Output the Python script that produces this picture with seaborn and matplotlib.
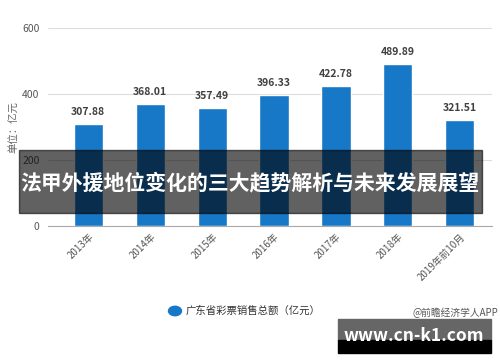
import pandas as pd
import seaborn as sns
import matplotlib.pyplot as plt
from matplotlib.patches import Rectangle

# Data
years = ['2013年', '2014年', '2015年', '2016年', '2017年', '2018年', '2019年前10月']
sales = [307.88, 368.01, 357.49, 396.33, 422.78, 489.89, 321.51]
yticks = [0, 200, 400, 600]

df = pd.DataFrame({'year': years, 'sales': sales})

sns.set_style('white')
plt.rcParams['font.family'] = ['Noto Sans CJK SC', 'DejaVu Sans']

fig = plt.figure(figsize=(5, 3.62), dpi=100)
ax = fig.add_axes([0.096, 0.376, 0.888, 0.547])

sns.barplot(data=df, x='year', y='sales', color='#1878C8', width=0.47,
            saturation=1, ax=ax, zorder=3)

# value labels
for i, v in enumerate(sales):
    ax.annotate(f'{v:.2f}', (i, v), xytext=(0, 5), textcoords='offset points',
                ha='center', va='bottom', fontsize=7.5, fontweight='bold', color='#404040')

ax.set_ylim(0, 600)
ax.set_xlim(-0.65, 6.52)
ax.set_yticks(yticks)
ax.set_yticklabels([str(t) for t in yticks], fontsize=7.5, color='#555555')
ax.tick_params(axis='y', length=0, pad=6)
ax.tick_params(axis='x', length=3, color='#aaaaaa', pad=1)
ax.set_xticks(range(len(years)))
ax.set_xticklabels(years, rotation=45, ha='right', rotation_mode='anchor',
                   fontsize=7, color='#555555')
ax.grid(axis='y', color='#dddddd', lw=0.8, zorder=0)
for s in ['top', 'right', 'left']:
    ax.spines[s].set_visible(False)
ax.spines['bottom'].set_color('#aaaaaa')
ax.set_xlabel('')
ax.set_ylabel('单位：亿元', fontsize=7.5, color='#666666', labelpad=2)

# legend
fig.patches.append(plt.Circle((175 / 500, 1 - 311 / 362), 0.013, transform=fig.transFigure,
                              color='#1878C8', figure=fig))
fig.text(186 / 500, 1 - 311 / 362, '广东省彩票销售总额（亿元）', fontsize=7.5,
         color='#333333', va='center', ha='left')

# title banner
fig.patches.append(Rectangle((19 / 500, 1 - 213 / 362), 463 / 500, 63 / 362,
                             transform=fig.transFigure, color='#000000', alpha=0.62,
                             zorder=5, figure=fig))
fig.text(250 / 500, 1 - 183 / 362, '法甲外援地位变化的三大趋势解析与未来发展展望',
         fontsize=15, fontweight='bold', color='white', ha='center', va='center',
         zorder=6)

# bottom watermark
fig.text(498 / 500, 1 - 318 / 362, '@前瞻经济学人APP', fontsize=7, color='#555555',
         ha='right', va='bottom')
fig.patches.append(Rectangle((338 / 500, 1 - 340 / 362), 153 / 500, 21 / 362,
                             transform=fig.transFigure, color='#666666', zorder=5,
                             figure=fig))
fig.patches.append(Rectangle((338 / 500, 1 - 353 / 362), 153 / 500, 13 / 362,
                             transform=fig.transFigure, color='#000000', zorder=5,
                             figure=fig))
fig.text(414 / 500, 1 - 336 / 362, 'www.cn-k1.com', fontsize=12.5, fontweight='bold',
         color='white', ha='center', va='center', zorder=6)

fig.savefig('out.png', dpi=100)
